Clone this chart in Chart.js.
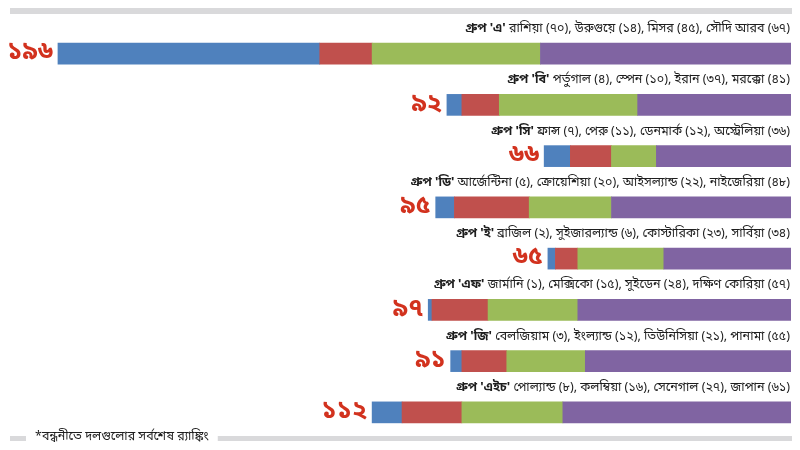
<!DOCTYPE html>
<html>
<head>
<meta charset="utf-8">
<script src="https://cdn.jsdelivr.net/npm/chart.js@4.4.0/dist/chart.umd.min.js"></script>
<style>
  html, body { margin: 0; padding: 0; background: #fff; }
  canvas { display: block; }
</style>
</head>
<body>
<canvas id="groupChart" width="800" height="450"></canvas>
<script>
// ===== DATA =====
const groups = ["এ", "বি", "সি", "ডি", "ই", "এফ", "জি", "এইচ"];

const team1 = ["রাশিয়া", "পর্তুগাল", "ফ্রান্স", "আর্জেন্টিনা", "ব্রাজিল", "জার্মানি", "বেলজিয়াম", "পোল্যান্ড"];
const team2 = ["উরুগুয়ে", "স্পেন", "পেরু", "ক্রোয়েশিয়া", "সুইজারল্যান্ড", "মেক্সিকো", "ইংল্যান্ড", "কলম্বিয়া"];
const team3 = ["মিসর", "ইরান", "ডেনমার্ক", "আইসল্যান্ড", "কোস্টারিকা", "সুইডেন", "তিউনিসিয়া", "সেনেগাল"];
const team4 = ["সৌদি আরব", "মরক্কো", "অস্ট্রেলিয়া", "নাইজেরিয়া", "সার্বিয়া", "দক্ষিণ কোরিয়া", "পানামা", "জাপান"];

const rank1 = [70, 4, 7, 5, 2, 1, 3, 8];
const rank2 = [14, 10, 11, 20, 6, 15, 12, 16];
const rank3 = [45, 37, 12, 22, 23, 24, 21, 27];
const rank4 = [67, 41, 36, 48, 34, 57, 55, 61];

const footnote = "*বন্ধনীতে দলগুলোর সর্বশেষ র‍্যাঙ্কিং";

const BN_FONT = "'Noto Sans Bengali', 'Noto Serif Bengali', 'Lohit Bengali', 'FreeSerif', 'Noto Sans', sans-serif";

function bnDigits(n) {
  const d = "০১২৩৪৫৬৭৮৯";
  return String(n).replace(/[0-9]/g, c => d[+c]);
}

const totals = rank1.map((v, i) => v + rank2[i] + rank3[i] + rank4[i]);

// ===== LABEL PLUGIN =====
const groupLabels = {
  id: "groupLabels",
  afterDatasetsDraw(chart) {
    const ctx = chart.ctx;
    const xs = chart.scales.x;
    const ys = chart.scales.y;
    const right = xs.getPixelForValue(0);

    ctx.save();
    // top gray rule
    ctx.fillStyle = "#d9d9db";
    ctx.fillRect(10, 8, 782, 6);

    groups.forEach((g, i) => {
      const y = ys.getPixelForValue(i);
      const head = "গ্রুপ '" + g + "'";
      const rest = team1[i] + " (" + bnDigits(rank1[i]) + "), " +
        team2[i] + " (" + bnDigits(rank2[i]) + "), " +
        team3[i] + " (" + bnDigits(rank3[i]) + "), " +
        team4[i] + " (" + bnDigits(rank4[i]) + ")";

      ctx.textBaseline = "middle";
      ctx.textAlign = "right";
      ctx.fillStyle = "#1e1e1e";
      ctx.font = "12.5px " + BN_FONT;
      ctx.fillText(rest, right - 1, y - 24);
      const w = ctx.measureText(" " + rest).width;
      ctx.font = "bold 12.5px " + BN_FONT;
      ctx.fillText(head, right - 1 - w, y - 24);

      // total on the left of the bar
      ctx.fillStyle = "#d2321e";
      ctx.font = "bold 25px " + BN_FONT;
      ctx.fillText(bnDigits(totals[i]), xs.getPixelForValue(totals[i]) - 5, y + 1);
    });

    // bottom rule with footnote
    ctx.fillStyle = "#d9d9db";
    ctx.fillRect(10, 436, 16, 5);
    ctx.font = "12.5px " + BN_FONT;
    ctx.textAlign = "left";
    const fw = ctx.measureText(footnote).width;
    ctx.fillRect(36 + fw + 8, 436, 792 - (36 + fw + 8), 5);
    ctx.fillStyle = "#1e1e1e";
    ctx.fillText(footnote, 35, 438);
    ctx.restore();
  }
};

// ===== CHART =====
function makeSet(data, color) {
  return {
    data: data,
    backgroundColor: color,
    borderWidth: 0,
    barThickness: 21
  };
}

new Chart(document.getElementById("groupChart").getContext("2d"), {
  type: "bar",
  data: {
    labels: groups,
    datasets: [
      makeSet(rank4, "#8064a2"),
      makeSet(rank3, "#9bbb59"),
      makeSet(rank2, "#c0504d"),
      makeSet(rank1, "#4f81bd")
    ]
  },
  options: {
    indexAxis: "y",
    responsive: false,
    animation: false,
    devicePixelRatio: 1,
    layout: { padding: { top: 28, bottom: 12, left: 43, right: 9 } },
    plugins: {
      legend: { display: false },
      tooltip: { enabled: false }
    },
    scales: {
      x: {
        stacked: true,
        reverse: true,
        min: 0,
        max: 200,
        display: false
      },
      y: {
        stacked: true,
        display: false
      }
    }
  },
  plugins: [groupLabels]
});
</script>
</body>
</html>
